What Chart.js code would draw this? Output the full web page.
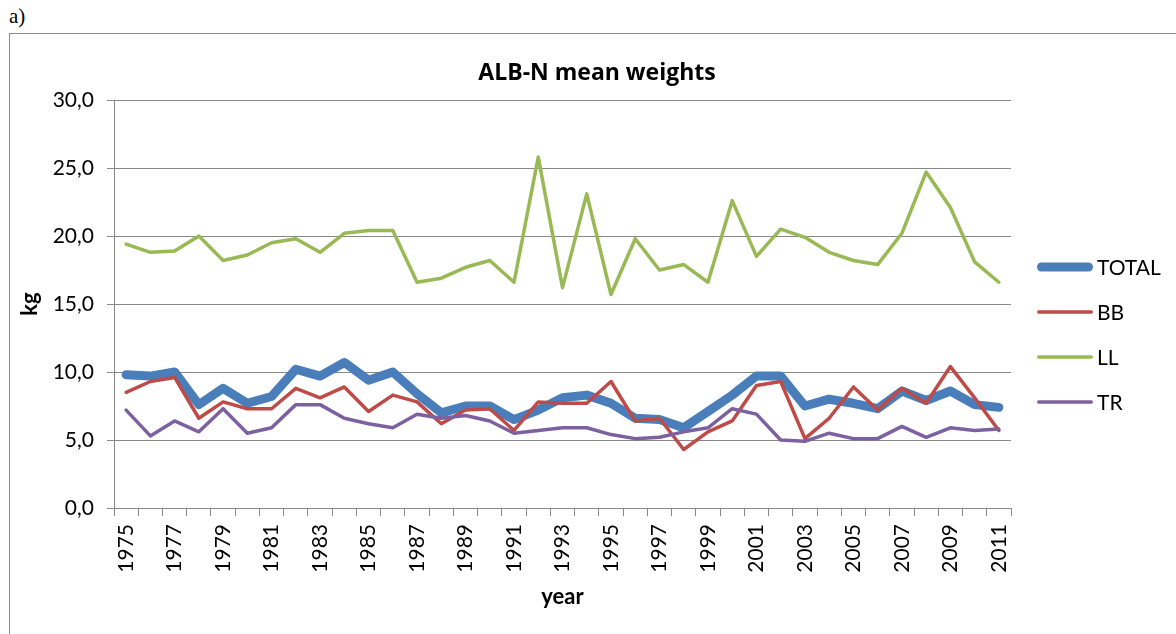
<!DOCTYPE html>
<html>
<head>
<meta charset="utf-8">
<script src="https://cdn.jsdelivr.net/npm/chart.js@4/dist/chart.umd.min.js"></script>
<style>
  body { margin: 0; background: #fff; }
  #wrap { position: relative; width: 1176px; height: 634px; overflow: hidden; }
  #tag { position: absolute; left: 9px; top: 4px; font: 21px "Liberation Serif", serif; color: #000; }
  #frame { position: absolute; left: 9px; top: 33px; width: 1200px; height: 700px;
           border-left: 1px solid #8a8a8a; border-top: 1px solid #8a8a8a; }
  canvas { position: absolute; left: 0; top: 0; }
</style>
</head>
<body>
<div id="wrap">
  <div id="tag">a)</div>
  <div id="frame"></div>
  <canvas id="chart" width="1176" height="634"></canvas>
</div>
<script>
// données
const years = [];
for (let y = 1975; y <= 2011; y++) years.push(String(y));

const total = [9.8, 9.7, 10.0, 7.6, 8.8, 7.7, 8.2, 10.2, 9.7, 10.7, 9.4, 10.0, 8.4,
               7.0, 7.5, 7.5, 6.5, 7.2, 8.1, 8.3, 7.7, 6.6, 6.5, 5.9, 7.1,
               8.3, 9.7, 9.7, 7.5, 8.0, 7.7, 7.3, 8.6, 7.9, 8.6, 7.6, 7.4];
const bb = [8.5, 9.3, 9.6, 6.6, 7.8, 7.3, 7.3, 8.8, 8.1, 8.9, 7.1, 8.3, 7.8,
            6.2, 7.2, 7.3, 5.7, 7.8, 7.7, 7.7, 9.3, 6.4, 6.6, 4.3, 5.6,
            6.4, 9.0, 9.3, 5.1, 6.6, 8.9, 7.2, 8.8, 7.7, 10.4, 8.1, 5.7];
const ll = [19.4, 18.8, 18.9, 20.0, 18.2, 18.6, 19.5, 19.8, 18.8, 20.2, 20.4, 20.4, 16.6,
            16.9, 17.7, 18.2, 16.6, 25.8, 16.2, 23.1, 15.7, 19.8, 17.5, 17.9, 16.6,
            22.6, 18.5, 20.5, 19.9, 18.8, 18.2, 17.9, 20.2, 24.7, 22.1, 18.1, 16.6];
const tr = [7.2, 5.3, 6.4, 5.6, 7.3, 5.5, 5.9, 7.6, 7.6, 6.6, 6.2, 5.9, 6.9,
            6.6, 6.8, 6.4, 5.5, 5.7, 5.9, 5.9, 5.4, 5.1, 5.2, 5.6, 5.9,
            7.3, 6.9, 5.0, 4.9, 5.5, 5.1, 5.1, 6.0, 5.2, 5.9, 5.7, 5.8];

const yTicks = [0, 5, 10, 15, 20, 25, 30];

const FONT = "Lato, 'Liberation Sans', sans-serif";
const GRID = "#888888";

function serie(label, data, color, width, order) {
  return {
    label, data, order,
    borderColor: color,
    backgroundColor: color,
    borderWidth: width,
    pointRadius: 0,
    tension: 0,
    fill: false,
    borderJoinStyle: "round",
    borderCapStyle: "round",
  };
}

// titre + légende dessinés à la main
const decor = {
  id: "decor",
  afterDraw(chart) {
    const ctx = chart.ctx;
    ctx.save();
    ctx.fillStyle = "#000";
    ctx.font = "bold 23px 'Open Sans', sans-serif";
    ctx.textAlign = "center";
    ctx.textBaseline = "middle";
    ctx.fillText("ALB-N mean weights", 597, 73);

    ctx.font = "21px " + FONT;
    ctx.textAlign = "left";
    chart.data.datasets.forEach((ds, i) => {
      const y = 267 + i * 45;
      ctx.strokeStyle = ds.borderColor;
      ctx.lineWidth = ds.borderWidth;
      ctx.lineCap = "round";
      ctx.beginPath();
      ctx.moveTo(1037 + ds.borderWidth / 2, y);
      ctx.lineTo(1093 - ds.borderWidth / 2, y);
      ctx.stroke();
      ctx.fillStyle = "#000";
      ctx.fillText(ds.label, 1097, y + 1);
    });
    ctx.restore();
  },
};

new Chart(document.getElementById("chart"), {
  type: "line",
  data: {
    labels: years,
    datasets: [
      serie("TOTAL", total, "#4a7ebb", 9, 4),
      serie("BB", bb, "#be4b48", 3.5, 3),
      serie("LL", ll, "#98b954", 3.5, 2),
      serie("TR", tr, "#7d60a0", 3.5, 1),
    ],
  },
  options: {
    responsive: false,
    animation: false,
    layout: { padding: { top: 100, right: 165, bottom: 0, left: 14 } },
    plugins: { legend: { display: false }, tooltip: { enabled: false } },
    scales: {
      x: {
        offset: true,
        grid: { offset: true, drawOnChartArea: false, drawTicks: true, tickLength: 8, color: GRID },
        border: { color: GRID },
        ticks: {
          autoSkip: false,
          minRotation: 90,
          maxRotation: 90,
          padding: 8,
          color: "#000",
          font: { family: FONT, size: 21 },
          callback: (v, i) => (i % 2 === 0 ? years[i] : ""),
        },
        title: { display: true, text: "year", color: "#000",
                 font: { family: FONT, size: 22, weight: "bold" }, padding: { bottom: 24 } },
        afterFit: (s) => { s.height = 126; },
      },
      y: {
        min: 0,
        max: 30,
        grid: { color: GRID, tickLength: 7 },
        border: { color: GRID },
        afterBuildTicks: (s) => { s.ticks = yTicks.map((v) => ({ value: v })); },
        ticks: {
          padding: 13,
          color: "#000",
          font: { family: FONT, size: 21 },
          callback: (v) => v.toFixed(1).replace(".", ","),
        },
        title: { display: true, text: "kg", color: "#000",
                 font: { family: FONT, size: 22, weight: "bold" }, padding: { top: 3 } },
        afterFit: (s) => { s.width = 100; },
      },
    },
  },
  plugins: [decor],
});
</script>
</body>
</html>
